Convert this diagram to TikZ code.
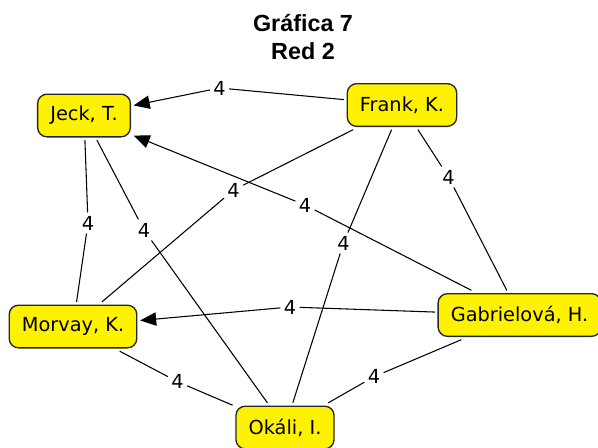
\documentclass[tikz,border=0pt]{standalone}
\usepackage{fontspec}
\setmainfont{DejaVu Sans}
\newfontfamily\titlefont{Liberation Sans}
\usetikzlibrary{arrows.meta}

\tikzset{every picture/.style={line width=0.8pt}}
\tikzset{
  person/.style={draw=black!85, line width=1pt, fill=yellow, rounded corners=7pt, inner xsep=9.5pt,
    minimum height=32pt, outer sep=2.5pt, font=\fontsize{14.5}{17}\selectfont},
  weight/.style={fill=white, inner sep=2.2pt, font=\fontsize{14.5}{17}\selectfont},
  link/.style={draw=black},
  tolink/.style={draw=black, -{Triangle[length=12pt,width=10pt]}},
  heading/.style={font=\titlefont\bfseries\fontsize{17.5}{20}\selectfont}
}

\begin{document}
\begin{tikzpicture}[x=0.75pt,y=0.75pt,yscale=-1,xscale=1]
\useasboundingbox (0,0) rectangle (598,447);

% Title
\node [heading] (t1) at (303,23) {Gráfica 7};
\node [heading] (t2) at (303,51) {Red 2};

% People
\node [person] (jeck) at (84,115.5) {Jeck, T.};
\node [person] (frank) at (402,105) {Frank, K.};
\node [person] (morvay) at (73,326.5) {Morvay, K.};
\node [person] (gab) at (519.5,315) {Gabrielová, H.};
\node [person] (okali) at (285,427.5) {Okáli, I.};

% Weights
\node [weight] (fj) at (219.5,88) {4};
\node [weight] (gj) at (305,205) {4};
\node [weight] (gm) at (290,307) {4};
\node [weight] (jm) at (88,223) {4};
\node [weight] (jo) at (144,230) {4};
\node [weight] (fm) at (233.6,190) {4};
\node [weight] (fo) at (343.5,243) {4};
\node [weight] (fg) at (448.5,177) {4};
\node [weight] (mo) at (177.5,381.7) {4};
\node [weight] (go) at (374,376.7) {4};

% Directed ties
\draw [link] (frank) -- (fj);
\draw [tolink] (fj) -- (jeck);
\draw [link] (gab) -- (gj);
\draw [tolink] (gj) -- (jeck);
\draw [link] (gab) -- (gm);
\draw [tolink] (gm) -- (morvay);

% Undirected ties
\draw [link] (jeck) -- (jm) -- (morvay);
\draw [link] (jeck) -- (jo) -- (okali);
\draw [link] (frank) -- (fm) -- (morvay);
\draw [link] (frank) -- (fo) -- (okali);
\draw [link] (frank) -- (fg) -- (gab);
\draw [link] (morvay) -- (mo) -- (okali);
\draw [link] (gab) -- (go) -- (okali);

\end{tikzpicture}
\end{document}
